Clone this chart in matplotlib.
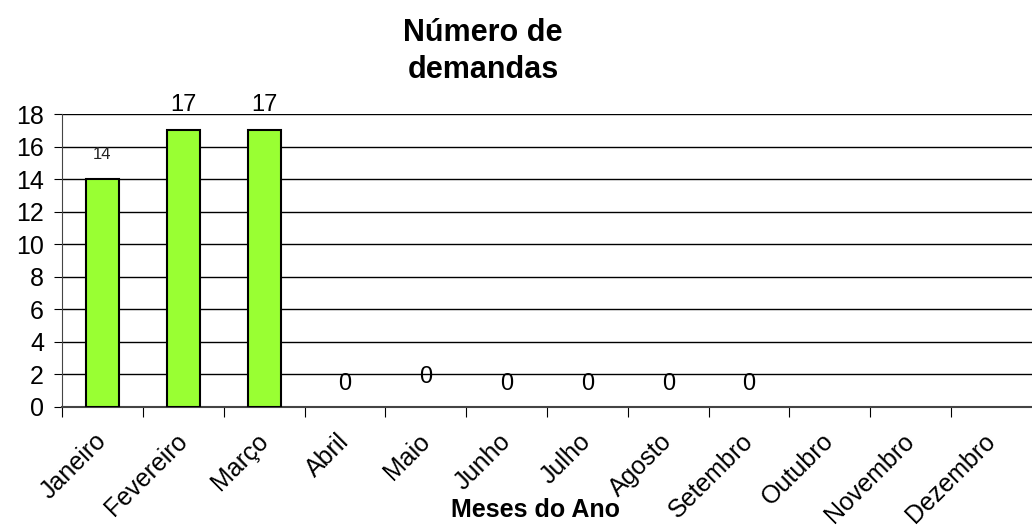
import matplotlib.pyplot as plt

# --- Data ---
meses = ["Janeiro", "Fevereiro", "Março", "Abril", "Maio", "Junho", "Julho",
         "Agosto", "Setembro", "Outubro", "Novembro", "Dezembro"]
demandas = [14, 17, 17, 0, 0, 0, 0, 0, 0, None, None, None]

plt.rcParams['font.family'] = ['Liberation Sans', 'DejaVu Sans']

fig = plt.figure(figsize=(10.32, 5.28), dpi=100)
ax = fig.add_axes([62 / 1032, 1 - 407 / 528, 1 - 62 / 1032, (407 - 114) / 528])

x = list(range(len(meses)))
# zero bars are not visible in the original, so only draw the positive ones
bx = [i for i, v in enumerate(demandas) if v]
bv = [demandas[i] for i in bx]
ax.bar(bx, bv, width=0.41, color='#99ff33', edgecolor='black', linewidth=1.5, zorder=3)

# --- Data labels ---
for i, v in enumerate(demandas):
    if v is None:
        continue
    if i == 0:
        ax.annotate(str(v), (i, v), xytext=(0, 12), textcoords='offset points',
                    ha='center', va='bottom', fontsize=12, color='#222222')
    elif v > 0:
        ax.annotate(str(v), (i, v), xytext=(0, 10), textcoords='offset points',
                    ha='center', va='bottom', fontsize=17)
    else:
        dy = 14 if meses[i] == "Maio" else 9
        ax.annotate(str(v), (i, v), xytext=(0, dy), textcoords='offset points',
                    ha='center', va='bottom', fontsize=17)

# --- Axes ---
ax.set_xlim(-0.5, len(meses) - 0.5)
ax.set_ylim(0, 18)
ax.set_yticks(range(0, 19, 2))
ax.tick_params(axis='y', labelsize=18, length=6, direction='out', pad=7)
ax.set_xticks([i - 0.5 for i in x])
ax.set_xticklabels([])
ax.set_xticks(x, minor=True)
ax.set_xticklabels(meses, minor=True, rotation=45, ha='right', va='center',
                   rotation_mode='anchor', fontsize=18)
ax.tick_params(axis='x', which='major', length=7, direction='out')
ax.tick_params(axis='x', which='minor', length=0, pad=22)

ax.yaxis.grid(True, color='black', linewidth=1, zorder=0)
ax.set_axisbelow(True)
for s in ['top', 'right']:
    ax.spines[s].set_visible(False)
ax.spines['left'].set_color('#444444')
ax.spines['bottom'].set_color('#444444')
ax.spines['bottom'].set_linewidth(1.5)

ax.set_xlabel("Meses do Ano", fontsize=18, fontweight='bold')
ax.xaxis.set_label_coords(0.488, -0.31)
fig.suptitle("Número de\ndemandas", fontsize=22, fontweight='bold', x=0.468, y=0.966,
             linespacing=1.3)

fig.savefig("out.png", dpi=100)
